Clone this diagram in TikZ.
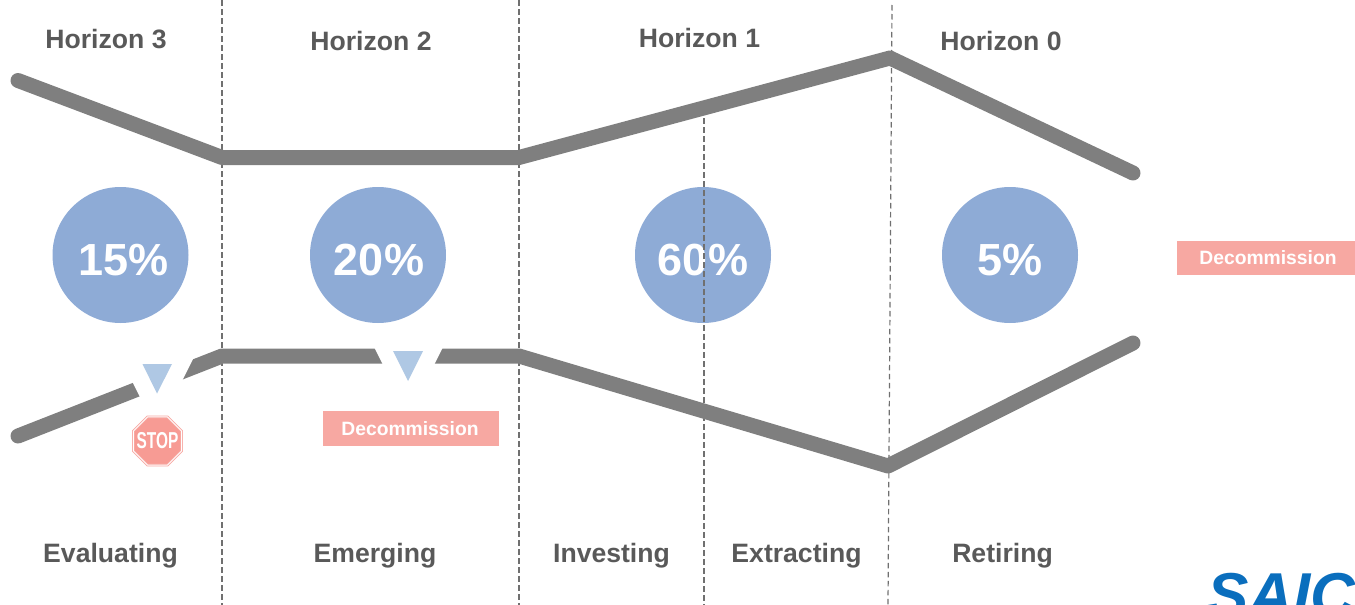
\documentclass[tikz,border=0pt]{standalone}
\usepackage{fontspec}
\setmainfont{Liberation Sans}
\usetikzlibrary{shapes.geometric}
\definecolor{linegrey}{HTML}{7F7F7F}
\definecolor{textgrey}{HTML}{595959}
\definecolor{dashgrey}{HTML}{707070}
\definecolor{circblue}{HTML}{8EABD6}
\definecolor{triblue}{HTML}{AFC8E4}
\definecolor{boxred}{HTML}{F7A8A2}
\definecolor{stopred}{HTML}{F79B94}
\definecolor{logoblue}{HTML}{0A6EBD}
\tikzset{
  band/.style={line width=15pt,draw=linegrey,line cap=round,line join=round},
  divider/.style={draw=dashgrey,line width=1.2pt,dash pattern=on 5.5pt off 3.5pt},
  label/.style={text=textgrey,font=\fontsize{26.6}{30}\bfseries\selectfont,inner sep=0pt},
  pct/.style={circle,fill=circblue,minimum size=136pt,inner sep=0pt,text=white,font=\fontsize{45}{50}\bfseries\selectfont},
  decom/.style={fill=boxred,text=white,minimum width=176pt,minimum height=34.5pt,inner sep=0pt,font=\fontsize{19.3}{22}\bfseries\selectfont},
  gap/.style={fill=white,draw=none},
  marker/.style={fill=triblue,draw=none}
}
\begin{document}
\begin{tikzpicture}[x=1pt,y=-1pt]
\path[use as bounding box,clip] (0,0) rectangle (1355,605);
% circles
\node[pct] (c15) at (120.5,255) {\hspace*{6pt}\raisebox{0pt}[40pt][0pt]{15\%}};
\node[pct] (c20) at (378,255) {\hspace*{2pt}\raisebox{0pt}[40pt][0pt]{20\%}};
\node[pct] (c60) at (703,255) {\raisebox{0pt}[40pt][0pt]{60\%}};
\node[pct] (c5) at (1010,255) {\raisebox{0pt}[40pt][0pt]{5\%}};
% band coordinates
\coordinate (t0) at (18,80.5);
\coordinate (t1) at (222,157.5);
\coordinate (t2) at (519,157.5);
\coordinate (t3) at (890,58);
\coordinate (t4) at (1133,173);
\coordinate (b0) at (18,436);
\coordinate (b1) at (222,356);
\coordinate (b2) at (519,356);
\coordinate (b3) at (888,466);
\coordinate (b4) at (1133,343);
% dividers
\coordinate (d1a) at (222,0); \coordinate (d1b) at (222,605);
\coordinate (d2a) at (519,0); \coordinate (d2b) at (519,605);
\coordinate (d3a) at (892,5); \coordinate (d3b) at (888,605);
\coordinate (d4a) at (704,118); \coordinate (d4b) at (704,605);
\draw[divider] (d1a) -- (d1b);
\draw[divider] (d2a) -- (d2b);
\draw[divider] (d3a) -- (d3b);
\draw[divider] (d4a) -- (d4b);
% bands
\draw[band] (t0) -- (t1) -- (t2) -- (t3) -- (t4);
\draw[band] (b0) -- (b1) -- (b2) -- (b3) -- (b4);
% gaps and markers
\fill[gap] (119,355) -- (195,355) -- (157,431) -- cycle;
\fill[gap] (373,345) -- (444,345) -- (408.5,416) -- cycle;
\fill[marker] (142.5,364) -- (172,364) -- (157,393.5) -- cycle;
\fill[marker] (393,351) -- (423,351) -- (408,381) -- cycle;
% stop sign
\node[regular polygon,regular polygon sides=8,minimum size=52pt,inner sep=0pt,
  fill=stopred,draw=boxred,double=white,double distance=1pt,line width=.8pt] (stopsign) at (157.5,441) {};
\node[text=white,inner sep=0pt] (stoptext) at (157.5,441)
  {\scalebox{.67}[1]{\fontsize{23}{24}\bfseries\selectfont STOP}};
% decommission boxes
\node[decom] (dc1) at (410.5,428.5) {\hspace*{-1pt}Decommission};
\node[decom,minimum width=178pt] (dc2) at (1266,258) {\hspace*{4pt}Decommission};
% headers
\node[label] (h3) at (106,39) {Horizon 3};
\node[label] (h2) at (371,41) {Horizon 2};
\node[label] (h1) at (699.5,38) {Horizon 1};
\node[label] (h0) at (1001,41) {Horizon 0};
% footers
\node[label] (s1) at (110.5,556) {Evaluating};
\node[label] (s2) at (375,556) {Emerging};
\node[label] (s3) at (611.5,556) {Investing};
\node[label] (s4) at (796.5,556) {Extracting};
\node[label] (s5) at (1002.5,556) {Retiring};
% logo
\node[anchor=base west,inner sep=0pt,text=logoblue,font=\fontsize{62}{66}\bfseries\itshape\selectfont] (logo) at (1207,616) {SAIC};
\end{tikzpicture}
\end{document}
